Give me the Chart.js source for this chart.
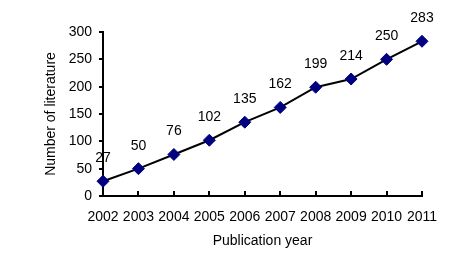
<!DOCTYPE html>
<html>
<head>
<meta charset="utf-8">
<script src="https://cdn.jsdelivr.net/npm/chart.js@4"></script>
<style>
  html, body { margin: 0; padding: 0; background: #fff; }
  #wrap { width: 469px; height: 266px; }
</style>
</head>
<body>
<div id="wrap"><canvas id="litChart"></canvas></div>
<script>
/* ================================
   Data
================================ */
const years = ["2002", "2003", "2004", "2005", "2006", "2007", "2008", "2009", "2010", "2011"];
const counts = [27, 50, 76, 102, 135, 162, 199, 214, 250, 283];
const yTicks = [0, 50, 100, 150, 200, 250, 300];

const FONT = { family: "'Liberation Sans', Arial, sans-serif", size: 14 };

/* ================================
   Plugins
================================ */
// value labels above each marker
const pointLabels = {
  id: "pointLabels",
  afterDatasetsDraw(chart) {
    const ctx = chart.ctx;
    const meta = chart.getDatasetMeta(0);
    ctx.save();
    ctx.font = `${FONT.size}px ${FONT.family}`;
    ctx.fillStyle = "#000";
    ctx.textAlign = "center";
    ctx.textBaseline = "middle";
    meta.data.forEach((pt, i) => {
      ctx.fillText(String(counts[i]), pt.x, pt.y - 23);
    });
    ctx.restore();
  }
};

// x-axis tick marks point inward (up)
const innerTicks = {
  id: "innerTicks",
  afterDraw(chart) {
    const ctx = chart.ctx;
    const x = chart.scales.x;
    const yBottom = chart.chartArea.bottom;
    ctx.save();
    ctx.strokeStyle = "#000";
    ctx.lineWidth = 2;
    years.forEach((_, i) => {
      const px = Math.round(x.getPixelForValue(i));
      ctx.beginPath();
      ctx.moveTo(px, yBottom);
      ctx.lineTo(px, yBottom - 5);
      ctx.stroke();
    });
    ctx.restore();
  }
};

/* ================================
   Chart
================================ */
new Chart(document.getElementById("litChart"), {
  type: "line",
  data: {
    labels: years,
    datasets: [{
      data: counts,
      borderColor: "#000",
      borderWidth: 2,
      pointStyle: "rectRot",
      pointRadius: 6,
      pointHoverRadius: 6,
      pointBackgroundColor: "#000080",
      pointBorderColor: "#000080",
      pointBorderWidth: 1,
      tension: 0
    }]
  },
  options: {
    responsive: true,
    maintainAspectRatio: false,
    animation: false,
    events: [],
    layout: { padding: { left: 0, top: 32, right: 47, bottom: 0 } },
    plugins: {
      legend: { display: false },
      tooltip: { enabled: false }
    },
    scales: {
      x: {
        offset: false,
        grid: { display: false, drawTicks: false },
        border: { display: true, color: "#000", width: 2 },
        ticks: { color: "#000", font: FONT, padding: 13, maxRotation: 0, autoSkip: false },
        title: { display: true, text: "Publication year", color: "#000", font: FONT, padding: { top: 0, bottom: 16 } },
        afterFit(scale) { scale.height = 70; }
      },
      y: {
        min: 0,
        max: 300,
        afterBuildTicks(scale) { scale.ticks = yTicks.map(v => ({ value: v })); },
        grid: { drawOnChartArea: false, drawTicks: true, tickLength: 4, color: "#000", lineWidth: 2 },
        border: { display: true, color: "#000", width: 2 },
        ticks: { color: "#000", font: FONT, padding: 7 },
        title: { display: true, text: "Number of literature", color: "#000", font: FONT, padding: { top: 43, bottom: 0 } },
        afterFit(scale) { scale.width = 103; }
      }
    }
  },
  plugins: [pointLabels, innerTicks]
});
</script>
</body>
</html>
